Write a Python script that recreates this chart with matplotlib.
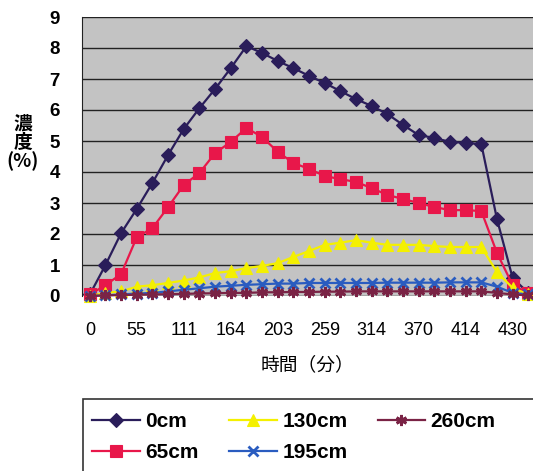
import matplotlib
matplotlib.use("Agg")
import matplotlib.pyplot as plt
from matplotlib.patches import Rectangle
import numpy as np

plt.rcParams['font.family'] = ['Liberation Sans', 'Noto Sans CJK JP', 'DejaVu Sans']

# time categories (only every 3rd one is labelled on the axis)
tick_labels = ['0', '55', '111', '164', '203', '259', '314', '370', '414', '430']
n_points = 29

series_names = ['0cm', '65cm', '130cm', '195cm', '260cm']

conc_0cm = [0.05, 1.0, 2.03, 2.81, 3.65, 4.55, 5.39, 6.06, 6.68, 7.35, 8.06, 7.84, 7.58,
            7.35, 7.1, 6.87, 6.61, 6.35, 6.13, 5.87, 5.52, 5.19, 5.1, 4.97, 4.94, 4.9,
            2.48, 0.58, 0.1]
conc_65cm = [0.05, 0.35, 0.71, 1.9, 2.19, 2.87, 3.58, 3.97, 4.61, 4.97, 5.42, 5.13, 4.65,
             4.29, 4.1, 3.87, 3.77, 3.68, 3.48, 3.26, 3.13, 3.0, 2.87, 2.77, 2.77, 2.74,
             1.39, 0.35, 0.1]
conc_130cm = [0.0, 0.1, 0.15, 0.3, 0.35, 0.42, 0.5, 0.6, 0.74, 0.8, 0.9, 0.97, 1.06,
              1.26, 1.45, 1.65, 1.72, 1.8, 1.72, 1.65, 1.65, 1.65, 1.61, 1.58, 1.58, 1.58,
              0.77, 0.26, 0.05]
conc_195cm = [0.0, 0.02, 0.05, 0.08, 0.1, 0.15, 0.2, 0.25, 0.3, 0.33, 0.36, 0.38, 0.4,
              0.4, 0.42, 0.42, 0.42, 0.42, 0.42, 0.43, 0.43, 0.43, 0.43, 0.44, 0.44, 0.44,
              0.3, 0.1, 0.05]
conc_260cm = [0.0, 0.02, 0.03, 0.04, 0.05, 0.06, 0.07, 0.08, 0.09, 0.1, 0.1, 0.12, 0.12,
              0.13, 0.13, 0.14, 0.14, 0.15, 0.15, 0.15, 0.15, 0.15, 0.15, 0.15, 0.15, 0.15,
              0.1, 0.05, 0.02]

all_series = [conc_0cm, conc_65cm, conc_130cm, conc_195cm, conc_260cm]
colors = ['#2a1d5a', '#e8174a', '#f4f000', '#2a5cc0', '#7a2345']
markers = ['D', 's', '^', 'x', (6, 2, 0)]
msizes = [7.5, 9, 9, 7, 8]

fig = plt.figure(figsize=(5.33, 4.71), dpi=100)
ax = fig.add_axes([82/533, 1 - 296/471, 1 - 82/533, 279/471])
ax.set_facecolor('#c3c3c3')

x = np.arange(n_points)
handles = []
for vals, name, c, m, ms in zip(all_series, series_names, colors, markers, msizes):
    mew = 2 if m in ('x', (6, 2, 0)) else 0.8
    h, = ax.plot(x, vals, color=c, marker=m, markersize=ms, lw=1.6,
                 markeredgewidth=mew, markeredgecolor=c, label=name, clip_on=False)
    handles.append(h)

ax.set_ylim(0, 9)
ax.set_xlim(-0.5, 28.3)
ax.set_yticks(range(0, 10))
ax.set_xticks(x[::3])
ax.set_xticklabels(tick_labels)
ax.yaxis.grid(True, color='#222222', lw=1)
ax.set_axisbelow(True)
ax.tick_params(length=0)
ax.tick_params(axis='y', labelsize=13.5, pad=16)
ax.tick_params(axis='x', labelsize=13, pad=19)
for t in ax.get_yticklabels():
    t.set_fontweight('bold')
for s in ['top', 'right', 'bottom']:
    ax.spines[s].set_visible(False)
ax.spines['left'].set_color('#222222')

ax.set_xlabel('時間（分）', family=['Noto Sans CJK JP'], fontsize=13.5, labelpad=11)
fig.text(23/533, 1 - 143/471, '濃\n度\n(%)', family=['Noto Sans CJK JP'],
         fontsize=13.5, fontweight='bold', ha='center', va='center', linespacing=0.95)

# legend box
fig.patches.append(Rectangle((83/533, -0.05), 0.9, 1 - 399/471 + 0.05,
                             transform=fig.transFigure, fill=False,
                             edgecolor='#333333', lw=1.2))
fig.legend(handles=handles, loc='upper left', bbox_to_anchor=(84/533, 1 - 404/471),
           ncol=3, frameon=False, prop={'size': 15, 'weight': 'bold'},
           handlelength=2.3, handletextpad=0.25, columnspacing=1.45,
           labelspacing=0.55, borderaxespad=0)

fig.savefig('out.png', dpi=100)
